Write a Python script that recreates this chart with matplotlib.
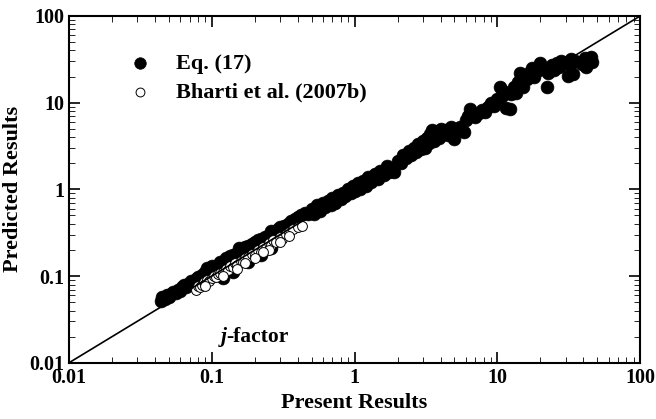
import matplotlib.pyplot as plt
from matplotlib.ticker import FixedFormatter, FixedLocator, NullFormatter

plt.rcParams['font.family'] = ['Liberation Serif', 'DejaVu Serif']
plt.rcParams['font.weight'] = 'bold'
plt.rcParams.update({
    'xtick.direction': 'in', 'ytick.direction': 'in',
    'xtick.top': True, 'ytick.right': True,
    'xtick.major.size': 8, 'ytick.major.size': 8,
    'xtick.minor.size': 4.5, 'ytick.minor.size': 4.5,
    'xtick.major.width': 1.2, 'ytick.major.width': 1.2,
    'axes.linewidth': 1.5,
})

# Eq. (17) points (present, predicted)
eq_x = [0.044, 0.045, 0.047, 0.049, 0.050, 0.052, 0.054, 0.056, 0.058, 0.060,
        0.062, 0.064, 0.066, 0.068, 0.070, 0.072, 0.075, 0.078, 0.080, 0.083,
        0.086, 0.088, 0.090, 0.093, 0.095, 0.098, 0.100,
        0.105, 0.11, 0.115, 0.12, 0.125, 0.13, 0.135, 0.14, 0.15, 0.155,
        0.16, 0.17, 0.18, 0.19, 0.20, 0.21, 0.22, 0.235, 0.25, 0.26,
        0.27, 0.29, 0.30, 0.32, 0.34, 0.36, 0.38, 0.40, 0.42, 0.45,
        0.47, 0.12, 0.14, 0.18, 0.22, 0.26,
        0.50, 0.52, 0.55, 0.57, 0.60, 0.62, 0.65, 0.68, 0.70, 0.73,
        0.76, 0.80, 0.83, 0.86, 0.90, 0.94, 0.98, 1.0, 1.05, 1.1,
        1.15, 1.2, 1.25, 1.3, 1.4, 1.45, 1.5, 1.6, 1.7, 1.75,
        1.8, 1.9, 2.0,
        2.1, 2.2, 2.3, 2.4, 2.5, 2.6, 2.7, 2.8, 2.9, 3.0,
        3.1, 3.2, 3.3, 3.4, 3.5, 3.6, 3.8, 3.9, 4.0, 4.2,
        4.4, 4.5, 4.7, 4.9, 5.0, 5.2, 5.5, 5.8, 6.0, 6.2,
        6.4, 6.7, 7.0, 7.4, 7.8, 8.2, 8.6, 9.0, 9.5, 10.0,
        10.4, 10.8, 11.0, 11.5, 12.2, 12.5, 13.0, 13.5, 14.0, 14.4,
        15.0, 15.5, 16.0, 17.0, 17.5, 18.0, 19.0, 20.0, 21.0, 22.3,
        22.5, 24.0, 25.0, 26.0, 27.0, 28.0, 30.0, 31.0, 32.0, 33.0,
        34.0, 35.0, 39.0, 41.0, 42.0, 44.0, 45.0, 46.0]
eq_y = [0.052, 0.057, 0.055, 0.060, 0.058, 0.062, 0.066, 0.064, 0.070, 0.068,
        0.074, 0.078, 0.075, 0.082, 0.080, 0.088, 0.086, 0.092, 0.098, 0.094,
        0.104, 0.100, 0.112, 0.125, 0.108, 0.118, 0.130,
        0.128, 0.132, 0.145, 0.140, 0.160, 0.155, 0.170, 0.175, 0.185, 0.21,
        0.195, 0.215, 0.225, 0.235, 0.25, 0.26, 0.27, 0.285, 0.30, 0.33,
        0.32, 0.35, 0.37, 0.38, 0.40, 0.43, 0.45, 0.48, 0.50, 0.53,
        0.52, 0.095, 0.112, 0.145, 0.175, 0.21,
        0.60, 0.52, 0.66, 0.56, 0.70, 0.62, 0.74, 0.66, 0.80, 0.70,
        0.86, 0.78, 0.92, 0.84, 1.0, 0.90, 1.08, 0.95, 1.18, 1.02,
        1.25, 1.10, 1.38, 1.22, 1.52, 1.32, 1.62, 1.48, 1.85, 1.60,
        1.72, 1.60, 2.15,
        2.0, 2.5, 2.3, 2.8, 2.5, 3.0, 2.7, 3.3, 2.9, 3.6,
        3.0, 3.9, 3.4, 4.4, 4.9, 3.6, 4.6, 3.9, 5.0, 4.4,
        4.9, 4.2, 5.3, 4.6, 3.8, 4.9, 5.3, 4.6, 6.3, 7.0,
        8.5, 7.2, 6.8, 7.6, 8.2, 7.8, 9.0, 9.8, 9.2, 11.0,
        15.0, 12.0, 13.5, 8.6, 8.5, 12.5, 15.0, 13.0, 17.5, 22.0,
        15.0, 20.0, 18.5, 22.5, 25.0, 20.0, 25.0, 28.5, 24.5, 15.2,
        22.0, 27.0, 24.0, 28.5, 26.0, 30.0, 29.0, 20.5, 27.5, 31.5,
        21.5, 30.0, 28.0, 33.0, 26.0, 31.5, 34.0, 29.5]

# Bharti et al. (2007b) points
bh_x = [0.078, 0.080, 0.083, 0.086, 0.088, 0.090, 0.093, 0.096, 0.10, 0.103,
        0.107, 0.11, 0.115, 0.12, 0.125, 0.13, 0.135, 0.14, 0.145, 0.15,
        0.16, 0.165, 0.17, 0.18, 0.19, 0.20, 0.21, 0.22, 0.23, 0.24,
        0.25, 0.26, 0.27, 0.28, 0.30, 0.31, 0.33, 0.35, 0.37, 0.40,
        0.43, 0.12, 0.15, 0.20, 0.25, 0.30, 0.09, 0.17, 0.23, 0.35]
bh_y = [0.070, 0.076, 0.074, 0.080, 0.085, 0.082, 0.090, 0.088, 0.095, 0.100,
        0.098, 0.106, 0.11, 0.112, 0.12, 0.118, 0.13, 0.128, 0.14, 0.135,
        0.15, 0.145, 0.16, 0.165, 0.18, 0.175, 0.20, 0.19, 0.215, 0.21,
        0.24, 0.23, 0.26, 0.25, 0.28, 0.27, 0.31, 0.32, 0.35, 0.37,
        0.38, 0.10, 0.12, 0.16, 0.20, 0.25, 0.077, 0.14, 0.19, 0.29]

line_x = [0.01, 100]
ticks = [0.01, 0.1, 1, 10, 100]
tick_labels = ['0.01', '0.1', '1', '10', '100']
minor_ticks = [m * 10.0 ** e for e in range(-2, 2) for m in range(2, 10)]

fig = plt.figure(figsize=(6.56, 4.19), dpi=100)
ax = fig.add_axes([0.105, 0.134, 0.871, 0.828])

ax.scatter(eq_x, eq_y, s=85, color='black', edgecolors='black', linewidths=0.5,
           zorder=2, label='Eq. (17)')
ax.scatter(bh_x, bh_y, s=50, facecolors='white', edgecolors='black', linewidths=0.7,
           zorder=3, label='Bharti et al. (2007b)')
ax.plot(line_x, line_x, color='black', lw=1.2, zorder=4)

ax.set_xscale('log')
ax.set_yscale('log')
ax.set_xlim(0.01, 100)
ax.set_ylim(0.01, 100)

for axis in (ax.xaxis, ax.yaxis):
    axis.set_major_locator(FixedLocator(ticks))
    axis.set_major_formatter(FixedFormatter(tick_labels))
    axis.set_minor_locator(FixedLocator(minor_ticks))
    axis.set_minor_formatter(NullFormatter())
ax.tick_params(labelsize=14.5)

ax.set_xlabel('Present Results', fontsize=16, fontweight='bold', labelpad=4)
ax.set_ylabel('Predicted Results', fontsize=16, fontweight='bold', labelpad=4)

t1 = ax.text(0.115, 0.02, 'j', fontsize=15.5, fontweight='bold', style='italic',
             va='center', ha='left')
ax.annotate('-factor', xy=(1, 0), xycoords=t1, va='bottom', ha='left',
            fontsize=15.5, fontweight='bold')

ax.legend(loc='upper left', bbox_to_anchor=(0.07, 0.917), frameon=False,
          prop={'size': 16, 'weight': 'bold'}, handletextpad=0.6,
          labelspacing=0.35, borderaxespad=0, markerscale=0.9)

fig.savefig('out.png', dpi=100)
